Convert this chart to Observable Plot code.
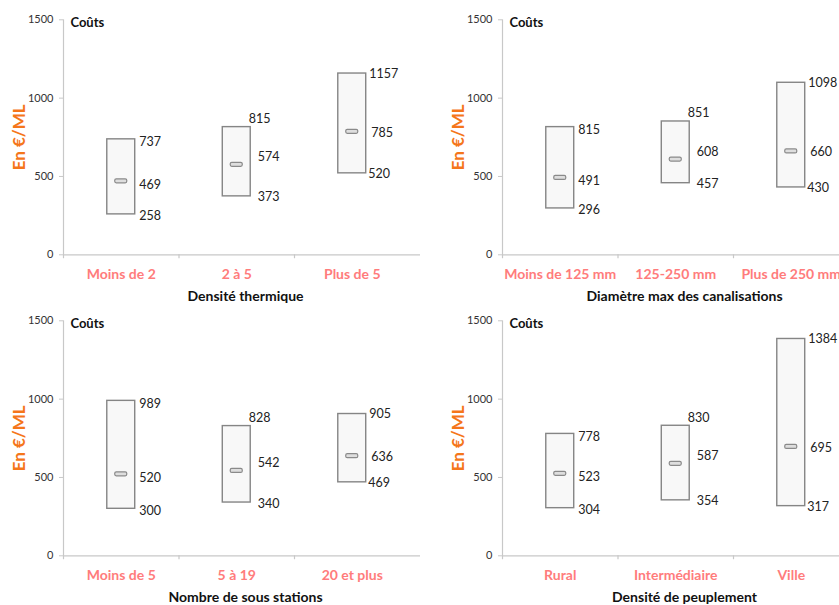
<!DOCTYPE html>
<html>
<head>
<meta charset="utf-8">
<script src="https://cdn.jsdelivr.net/npm/d3@7"></script>
<script src="https://cdn.jsdelivr.net/npm/@observablehq/plot@0.6"></script>
<style>
  html, body { margin: 0; padding: 0; background: #fff; }
  #wrap { position: relative; width: 839px; height: 605px; overflow: hidden; background: #fff; }
  .panel { position: absolute; width: 420px; height: 302px; }
  .panel svg { max-width: none !important; }
</style>
</head>
<body>
<div id="wrap"></div>
<script>
// ---- data ----
const yTicks = [0, 500, 1000, 1500];
const yLabel = "En €/ML";
const cornerLabel = "Coûts";

const titles = ["Densité thermique", "Diamètre max des canalisations", "Nombre de sous stations", "Densité de peuplement"];

const catsThermique = ["Moins de 2", "2 à 5", "Plus de 5"];
const highThermique = [737, 815, 1157];
const medThermique = [469, 574, 785];
const lowThermique = [258, 373, 520];

const catsDiametre = ["Moins de 125 mm", "125-250 mm", "Plus de 250 mm"];
const highDiametre = [815, 851, 1098];
const medDiametre = [491, 608, 660];
const lowDiametre = [296, 457, 430];

const catsStations = ["Moins de 5", "5 à 19", "20 et plus"];
const highStations = [989, 828, 905];
const medStations = [520, 542, 636];
const lowStations = [300, 340, 469];

const catsPeuplement = ["Rural", "Intermédiaire", "Ville"];
const highPeuplement = [778, 830, 1384];
const medPeuplement = [523, 587, 695];
const lowPeuplement = [304, 354, 317];

// ---- style ----
const FONT = "Lato, 'Open Sans', sans-serif";
const ORANGE = "#f5761a";
const SALMON = "#ff7c7c";
const BOX_HALF = 0.121;   // half box width in band units
const MED_HALF = 0.052;
const LABEL_OFFSETS = [
  {high: [4, 3], med: [4, 3.5], low: [4, 2]},
  {high: [-2, -8], med: [7, -8], low: [7, 1]},
  {high: [3, 0], med: [5, 1], low: [2, 1]}
];

function panel(title, cats, highs, meds, lows, left, top) {
  const rows = cats.map((c, i) => ({i, cat: c, high: highs[i], med: meds[i], low: lows[i]}));
  const marks = [
    Plot.ruleY([0], {stroke: "#c8c8c8", strokeWidth: 1.2}),
    Plot.ruleX([0], {y1: -25, y2: 1500, stroke: "#c8c8c8", strokeWidth: 1.2}),
    Plot.ruleX([1, 2], {y1: 0, y2: -25, stroke: "#c8c8c8", strokeWidth: 1.2}),
    Plot.axisY({ticks: yTicks, tickFormat: d => String(d), tickSize: 4, tickPadding: 6,
      stroke: "#c8c8c8", fill: "#333", fontSize: 11, label: null}),
    Plot.rect(rows, {
      x1: d => d.i + 0.5 - BOX_HALF, x2: d => d.i + 0.5 + BOX_HALF,
      y1: "low", y2: "high", fill: "#f8f8f8", stroke: "#858585", strokeWidth: 1.4
    }),
    Plot.rect(rows, {
      x1: d => d.i + 0.5 - MED_HALF, x2: d => d.i + 0.5 + MED_HALF,
      y1: "med", y2: "med", insetTop: -2, insetBottom: -2, rx: 1.5,
      fill: "#dedede", stroke: "#8a8a8a", strokeWidth: 1.2
    }),
    Plot.text(rows, {
      x: d => d.i + 0.5, text: "cat", frameAnchor: "bottom", dy: 20,
      fill: SALMON, fontWeight: "bold", fontSize: 14, lineAnchor: "middle"
    }),
    Plot.text([title], {
      x: () => 1.576, text: d => d, frameAnchor: "bottom", dy: 42,
      fill: "#111", fontWeight: "bold", fontSize: 14, lineAnchor: "middle"
    }),
    Plot.text([cornerLabel], {
      x: () => 0.06, y: () => 1500, text: d => d, dy: 3.4, textAnchor: "start",
      lineAnchor: "middle", fill: "#111", fontWeight: "bold", fontSize: 13
    }),
    Plot.text([yLabel], {
      x: () => -0.38, y: () => 750, text: d => d, rotate: -90,
      textAnchor: "middle", lineAnchor: "middle", fill: ORANGE, fontWeight: "bold", fontSize: 17
    })
  ];
  rows.forEach((r, k) => {
    ["high", "med", "low"].forEach(key => {
      const [dx, dy] = LABEL_OFFSETS[k][key];
      marks.push(Plot.text([r], {
        x: d => d.i + 0.5 + BOX_HALF, y: d => d[key], text: d => String(d[key]),
        dx, dy, textAnchor: "start", lineAnchor: "middle", fill: "#222", fontSize: 12.5
      }));
    });
  });
  const svg = Plot.plot({
    width: 420,
    height: 302,
    marginLeft: 63,
    marginRight: 0,
    marginTop: 19.3,
    marginBottom: 47.7,
    x: {type: "linear", domain: [0, 3], range: [63, 409.5], axis: null},
    y: {domain: [0, 1500], axis: null},
    style: {fontFamily: FONT, fontSize: "11px", overflow: "visible", background: "transparent"},
    marks
  });
  const div = document.createElement("div");
  div.className = "panel";
  div.style.left = left + "px";
  div.style.top = top + "px";
  div.appendChild(svg);
  document.getElementById("wrap").appendChild(div);
}

panel(titles[0], catsThermique, highThermique, medThermique, lowThermique, 0, 0);
panel(titles[1], catsDiametre, highDiametre, medDiametre, lowDiametre, 439, 0);
panel(titles[2], catsStations, highStations, medStations, lowStations, 0, 301);
panel(titles[3], catsPeuplement, highPeuplement, medPeuplement, lowPeuplement, 439, 301);
</script>
</body>
</html>
